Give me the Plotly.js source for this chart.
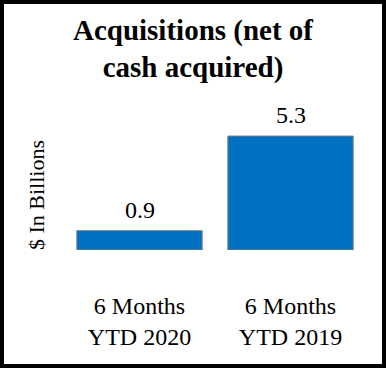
<!DOCTYPE html>
<html>
<head>
<meta charset="utf-8">
<script src="https://cdn.plot.ly/plotly-3.0.1.min.js"></script>
<style>
  html, body { margin: 0; padding: 0; background: #fff; }
  #wrap { position: relative; width: 386px; height: 368px; }
  #chart { position: absolute; left: 0; top: 0; width: 386px; height: 368px; }
  #frame { position: absolute; left: 0; top: 0; width: 386px; height: 368px;
           box-sizing: border-box; border: 4px solid #000; pointer-events: none; }
</style>
</head>
<body>
<div id="wrap">
  <div id="chart"></div>
  <div id="frame"></div>
</div>
<script>
const categories = ['6 Months<br>YTD 2020', '6 Months<br>YTD 2019'];
const values = [0.9, 5.3];
const valueLabels = ['0.9', '5.3'];
const yAxisTitle = '$ In Billions';

const serif = '"Liberation Serif", "Times New Roman", Times, serif';

const trace = {
  type: 'bar',
  x: categories,
  y: values,
  marker: { color: '#0070C0', line: { color: '#7F7F7F', width: 1 } },
  hoverinfo: 'none'
};

const valueAnnotations = categories.map((c, i) => ({
  x: c, y: values[i], xref: 'x', yref: 'y',
  text: valueLabels[i], showarrow: false,
  xanchor: 'center', yanchor: 'bottom', yshift: 6,
  font: { family: serif, size: 24, color: '#000' }
}));

const layout = {
  width: 386,
  height: 368,
  margin: { l: 64, r: 20, t: 121, b: 118 },
  paper_bgcolor: '#fff',
  plot_bgcolor: '#fff',
  bargap: 0.17,
  showlegend: false,
  font: { family: serif, color: '#000' },
  title: {
    text: 'Acquisitions (net of<br>cash acquired)',
    font: { family: serif, size: 29, color: '#000', weight: 'bold' },
    x: 0.5, xref: 'container', xanchor: 'center',
    y: 0.892, yref: 'container', yanchor: 'top'
  },
  xaxis: {
    type: 'category',
    showline: false, showgrid: false, zeroline: false,
    ticks: '',
    ticklabelstandoff: 39,
    tickfont: { family: serif, size: 24, color: '#000' },
    fixedrange: true
  },
  yaxis: {
    range: [0, 6],
    showline: false, showgrid: false, zeroline: false,
    showticklabels: false, ticks: '',
    fixedrange: true
  },
  annotations: valueAnnotations.concat([{
    text: yAxisTitle, showarrow: false, textangle: -90,
    xref: 'paper', yref: 'paper', x: -0.0927, y: 0.426,
    xanchor: 'center', yanchor: 'middle',
    font: { family: serif, size: 22, color: '#000' }
  }])
};

Plotly.newPlot('chart', [trace], layout, { staticPlot: true, displayModeBar: false });
</script>
</body>
</html>
